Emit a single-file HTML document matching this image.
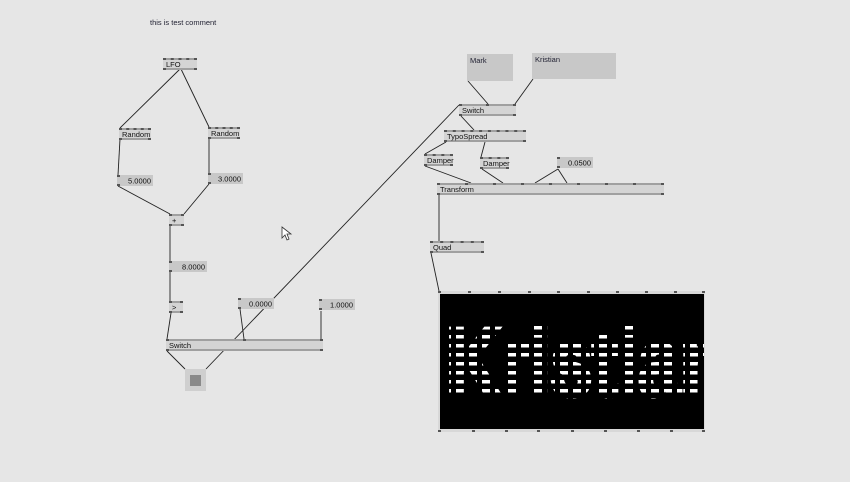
<!DOCTYPE html>
<html><head><meta charset="utf-8"><style>
body{margin:0;background:#e6e6e6;}
svg{display:block;font-family:"Liberation Sans",sans-serif;}
</style></head><body>
<svg width="850" height="482" viewBox="0 0 850 482" xmlns="http://www.w3.org/2000/svg">
<defs>
<pattern id="dash" width="13" height="9" patternUnits="userSpaceOnUse" x="443" y="326">
<rect x="0" y="0" width="8" height="3.5" fill="#fff"/>
</pattern>
<clipPath id="rc"><rect x="440" y="294" width="264" height="135"/></clipPath>
</defs>
<rect width="850" height="482" fill="#e6e6e6"/>
<text x="150" y="25" font-size="7.5" fill="#223">this is test comment</text>

<g stroke="#222" stroke-width="0.9" fill="none">
<line x1="180" y1="69" x2="120" y2="128"/>
<line x1="181" y1="69" x2="209" y2="127"/>
<line x1="120" y1="139" x2="118" y2="175"/>
<line x1="209" y1="139" x2="209" y2="173"/>
<line x1="118" y1="186" x2="170" y2="214"/>
<line x1="209" y1="184" x2="184" y2="214"/>
<line x1="170" y1="226" x2="170" y2="261"/>
<line x1="170" y1="272" x2="170" y2="301"/>
<line x1="171" y1="313" x2="167" y2="339"/>
<line x1="240" y1="309" x2="244" y2="339"/>
<line x1="321" y1="311" x2="321" y2="339"/>
<line x1="167" y1="351" x2="185" y2="369"/>
<line x1="206" y1="369" x2="459" y2="105"/>
<line x1="468" y1="81" x2="488" y2="104"/>
<line x1="533" y1="79" x2="515" y2="104"/>
<line x1="461" y1="116" x2="474" y2="130"/>
<line x1="446" y1="142" x2="425" y2="154"/>
<line x1="485" y1="142" x2="481" y2="157"/>
<line x1="425" y1="166" x2="471" y2="183"/>
<line x1="482" y1="169" x2="503" y2="183"/>
<line x1="558" y1="169" x2="535" y2="183"/>
<line x1="558" y1="169" x2="567" y2="183"/>
<line x1="439" y1="195" x2="439" y2="241"/>
<line x1="431" y1="253" x2="439" y2="291"/>
</g>

<g id="nodes" font-size="7.5" fill="#111"></g>

<rect x="185" y="369" width="21" height="22" fill="#cfcfcf"/>
<rect x="190" y="375" width="11" height="11" fill="#8a8a8a"/>

<rect x="467" y="54" width="46" height="27" fill="#c8c8c8"/>
<text x="470" y="63" font-size="7.5" fill="#223">Mark</text>
<rect x="532" y="53" width="84" height="26" fill="#c8c8c8"/>
<text x="535" y="62" font-size="7.5" fill="#223">Kristian</text>

<rect x="438" y="291" width="267" height="141" fill="#d8d8d8"/>
<rect x="440" y="294" width="264" height="135" fill="#000"/>
<g clip-path="url(#rc)">
<text x="446" y="395" font-size="96" font-weight="bold" textLength="280" lengthAdjust="spacingAndGlyphs" fill="url(#dash)" stroke="url(#dash)" stroke-width="5">Kristian</text>
</g>
<g fill="#555">
<rect x="438" y="291" width="3" height="2"/><rect x="468" y="291" width="3" height="2"/><rect x="498" y="291" width="3" height="2"/><rect x="528" y="291" width="3" height="2"/><rect x="557" y="291" width="3" height="2"/><rect x="587" y="291" width="3" height="2"/><rect x="616" y="291" width="3" height="2"/><rect x="645" y="291" width="3" height="2"/><rect x="674" y="291" width="3" height="2"/><rect x="702" y="291" width="3" height="2"/>
<rect x="438" y="430" width="3" height="2"/><rect x="472" y="430" width="3" height="2"/><rect x="505" y="430" width="3" height="2"/><rect x="537" y="430" width="3" height="2"/><rect x="571" y="430" width="3" height="2"/><rect x="604" y="430" width="3" height="2"/><rect x="637" y="430" width="3" height="2"/><rect x="670" y="430" width="3" height="2"/><rect x="702" y="430" width="3" height="2"/>
</g>
<path d="M282 227 L282 238 L285 235 L287 240 L289 239 L287 234 L291 234 Z" fill="#fff" stroke="#333" stroke-width="0.8"/>
</svg>
<script>
(function(){
var ns="http://www.w3.org/2000/svg",g=document.getElementById("nodes");
function r(x,y,w,h,f){var e=document.createElementNS(ns,"rect");e.setAttribute("x",x);e.setAttribute("y",y);e.setAttribute("width",w);e.setAttribute("height",h);e.setAttribute("fill",f);g.appendChild(e);}
function t(x,y,s,a){var e=document.createElementNS(ns,"text");e.setAttribute("x",x);e.setAttribute("y",y);if(a)e.setAttribute("text-anchor",a);e.textContent=s;g.appendChild(e);}
function node(x,y,w,label,pins){var h=12;r(x,y,w,h,"#d4d4d4");r(x,y,w,2,"#a0a0a0");r(x,y+h-2,w,2,"#a0a0a0");
 pins=pins||Math.max(2,Math.round(w/8));for(var i=0;i<pins;i++){var px=x+(pins>1?i*(w-3)/(pins-1):0);r(px,y,3,2,"#555");}
 r(x,y+h-2,3,2,"#555");r(x+w-3,y+h-2,3,2,"#555");t(x+3,y+9,label);}
function io(x,y,w,v){r(x,y,w,11,"#c8c8c8");r(x,y,3,2,"#555");r(x,y+9,3,2,"#555");t(x+w-2,y+8.5,v,"end");}
node(163,58,34,"LFO",5);node(119,128,32,"Random",5);node(208,127,32,"Random",5);
node(169,214,15,"+",2);node(169,301,14,">",2);node(166,339,157,"Switch",3);
node(459,104,57,"Switch",3);node(444,130,82,"TypoSpread",10);node(424,154,29,"Damper",4);node(480,157,29,"Damper",4);
node(437,183,227,"Transform",9);node(430,241,54,"Quad",6);
io(117,175,36,"5.0000");io(208,173,35,"3.0000");io(169,261,38,"8.0000");io(238,298,36,"0.0000");io(319,299,36,"1.0000");io(557,157,36,"0.0500");
})();
</script>
</body></html>
